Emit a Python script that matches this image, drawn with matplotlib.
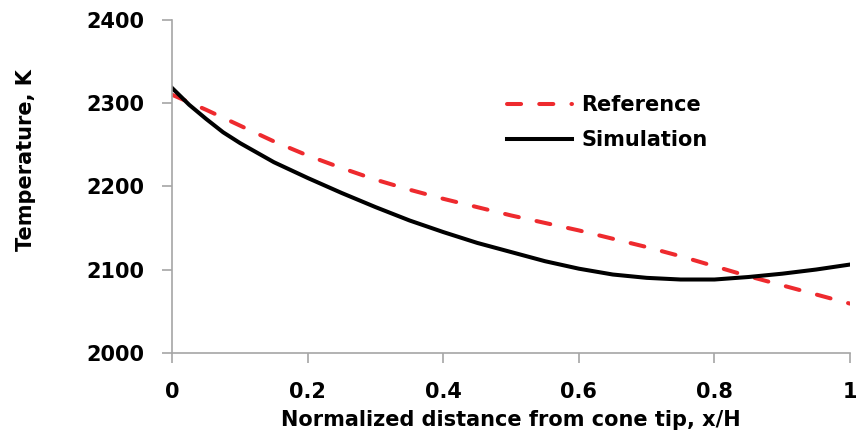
import numpy as np
import matplotlib.pyplot as plt

# data
x_ref = [0.0, 0.05, 0.1, 0.15, 0.2, 0.25, 0.3, 0.35, 0.4, 0.45, 0.5,
         0.55, 0.6, 0.65, 0.7, 0.75, 0.8, 0.85, 0.9, 0.95, 1.0]
t_ref = [2310, 2292, 2273, 2254, 2237, 2222, 2208, 2196, 2185, 2175, 2165,
         2156, 2147, 2137, 2127, 2116, 2104, 2092, 2081, 2070, 2059]

x_sim = [0.0, 0.025, 0.05, 0.075, 0.1, 0.15, 0.2, 0.25, 0.3, 0.35, 0.4, 0.45, 0.5,
         0.55, 0.6, 0.65, 0.7, 0.75, 0.8, 0.85, 0.9, 0.95, 1.0]
t_sim = [2318, 2298, 2281, 2265, 2252, 2229, 2210, 2192, 2175, 2159, 2145, 2132, 2121,
         2110, 2101, 2094, 2090, 2088, 2088, 2091, 2095, 2100, 2106]

xticks = [0, 0.2, 0.4, 0.6, 0.8, 1]
xtick_labels = ["0", "0.2", "0.4", "0.6", "0.8", "1"]
yticks = [2000, 2100, 2200, 2300, 2400]

plt.rcParams['font.family'] = 'DejaVu Sans'
plt.rcParams['font.weight'] = 'bold'

fig = plt.figure(figsize=(8.58, 4.44), dpi=100)
ax = fig.add_axes([0.2008, 0.2056, 0.7899, 0.7494])

ax.plot(x_ref, t_ref, color='#EE2A2E', lw=2.9, dashes=(3.5, 4.5),
        dash_capstyle='round', label='Reference')
ax.plot(x_sim, t_sim, color='black', lw=2.9, label='Simulation',
        solid_joinstyle='round')

ax.set_xlim(0, 1)
ax.set_ylim(2000, 2400)
ax.set_xticks(xticks)
ax.set_xticklabels(xtick_labels)
ax.set_yticks(yticks)

for side in ['top', 'right']:
    ax.spines[side].set_visible(False)
for side in ['left', 'bottom']:
    ax.spines[side].set_color('#A6A6A6')
    ax.spines[side].set_linewidth(1.2)

ax.tick_params(axis='both', colors='#A6A6A6', labelcolor='black',
               length=7, width=1.2, labelsize=15)
ax.tick_params(axis='y', pad=13)
ax.tick_params(axis='x', pad=14)

ax.set_xlabel("Normalized distance from cone tip, x/H", fontsize=15,
              fontweight='bold', labelpad=6)
fig.text(0.03, 0.64, "Temperature, K", rotation=90, fontsize=15,
         fontweight='bold', ha='center', va='center')

leg = ax.legend(loc='upper left', bbox_to_anchor=(0.482, 0.80), frameon=False,
                fontsize=15, handlelength=3.1, handletextpad=0.45,
                labelspacing=0.75, borderaxespad=0)

fig.savefig("out.png", dpi=100)
